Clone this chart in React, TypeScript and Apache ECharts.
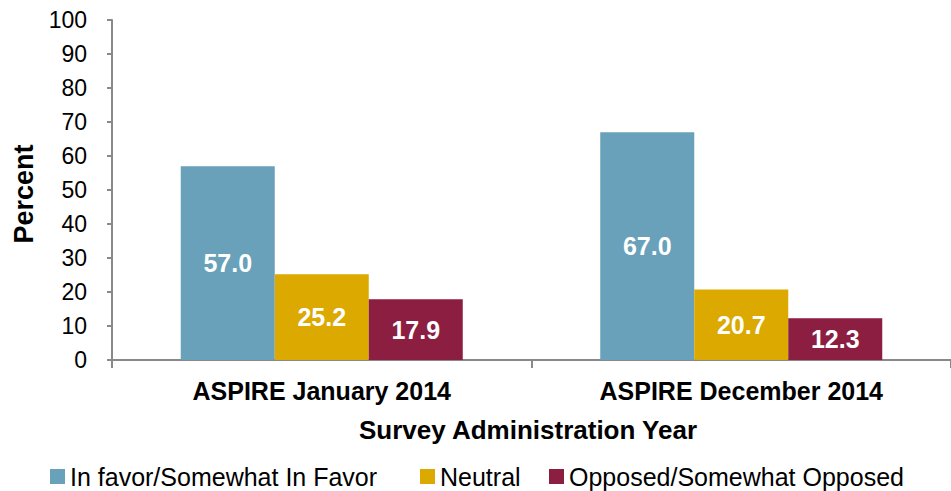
import React, { useEffect, useRef } from "react";
import * as echarts from "echarts";

const categories = ["ASPIRE January 2014", "ASPIRE December 2014"];
const seriesNames = ["In favor/Somewhat In Favor", "Neutral", "Opposed/Somewhat Opposed"];
const inFavor = [57.0, 67.0];
const neutral = [25.2, 20.7];
const opposed = [17.9, 12.3];
const yTicks = { min: 0, max: 100, interval: 10 };
const colors = ["#68A1B9", "#DBA900", "#8B1E41"];
const xTitle = "Survey Administration Year";
const yTitle = "Percent";

const FONT = "'Liberation Sans', Arial, Helvetica, sans-serif";

export default function App() {
  const ref = useRef<HTMLDivElement>(null);
  useEffect(() => {
    if (!ref.current) return;
    const chart = echarts.init(ref.current, undefined, { renderer: "svg" });
    const values = [inFavor, neutral, opposed];
    const legendLefts = [50, 420, 549];
    chart.setOption({
      animation: false,
      textStyle: { fontFamily: FONT },
      grid: { left: 112, right: -8, top: 20, bottom: 131, containLabel: false },
      legend: seriesNames.map((n, i) => ({
        data: [n],
        left: legendLefts[i],
        top: 464,
        padding: 0,
        icon: "rect",
        itemWidth: 15,
        itemHeight: 15,
        itemGap: 0,
        textStyle: { fontSize: 25, lineHeight: 25, color: "#000", fontFamily: FONT },
        selectedMode: false,
      })),
      xAxis: {
        type: "category",
        data: categories,
        axisLine: { lineStyle: { color: "#898989", width: 2 } },
        axisTick: { show: true, length: 8, lineStyle: { color: "#898989", width: 2 } },
        axisLabel: {
          interval: 0,
          margin: 18,
          fontSize: 25,
          fontWeight: "bold",
          color: "#000",
          fontFamily: FONT,
        },
      },
      yAxis: {
        type: "value",
        min: yTicks.min,
        max: yTicks.max,
        interval: yTicks.interval,
        axisLine: { show: true, lineStyle: { color: "#898989", width: 2 } },
        axisTick: { show: true, length: 5, lineStyle: { color: "#898989", width: 2 } },
        axisLabel: { margin: 25, fontSize: 23, color: "#000", fontFamily: FONT },
        splitLine: { show: false },
      },
      graphic: [
        {
          type: "text",
          x: 528,
          y: 430,
          style: {
            text: xTitle,
            font: `bold 26px ${FONT}`,
            fill: "#000",
            textAlign: "center",
            textVerticalAlign: "middle",
          },
        },
        {
          type: "text",
          x: 24,
          y: 194,
          rotation: Math.PI / 2,
          style: {
            text: yTitle,
            font: `bold 27px ${FONT}`,
            fill: "#000",
            textAlign: "center",
            textVerticalAlign: "middle",
          },
        },
      ],
      series: seriesNames.map((n, i) => ({
        name: n,
        type: "bar",
        data: values[i],
        barWidth: 94,
        barGap: "0%",
        itemStyle: { color: colors[i] },
        label: {
          show: true,
          position: "inside",
          formatter: (p: any) => Number(p.value).toFixed(1),
          fontSize: 25,
          fontWeight: "bold",
          color: "#fff",
          fontFamily: FONT,
        },
      })),
    });
    return () => chart.dispose();
  }, []);
  return (
    <div
      ref={ref}
      style={{ position: "absolute", left: 0, top: 0, width: 951, height: 491 }}
    />
  );
}
